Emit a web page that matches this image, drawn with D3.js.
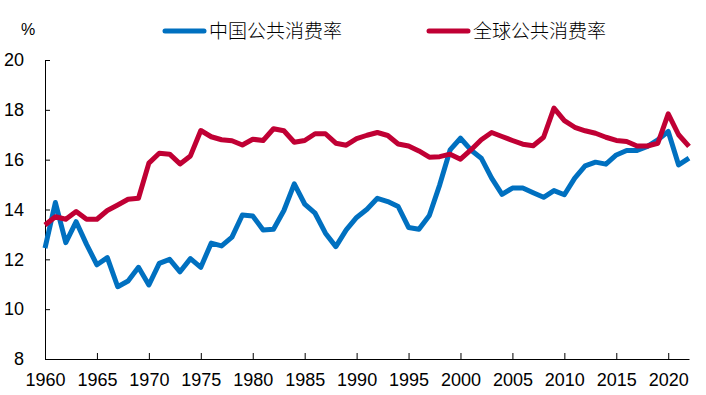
<!DOCTYPE html>
<html>
<head>
<meta charset="utf-8">
<script src="https://cdn.jsdelivr.net/npm/d3@7"></script>
<style>
  body { margin: 0; background: #fff; }
  svg { display: block; }
</style>
</head>
<body>
<div id="chart"></div>
<script>
// years 1960..2022
const years = d3.range(1960, 2023);

// 中国公共消费率 (%)
const chinaRate = [
  12.45, 14.28, 12.67, 13.51, 12.6, 11.78, 12.07, 10.9, 11.13, 11.68,
  10.97, 11.84, 12.0, 11.5, 12.03, 11.68, 12.65, 12.54, 12.89, 13.78,
  13.74, 13.18, 13.21, 13.96, 15.03, 14.22, 13.85, 13.05, 12.51, 13.18,
  13.68, 14.01, 14.45, 14.32, 14.12, 13.28, 13.21, 13.76, 14.99, 16.39,
  16.86, 16.39, 16.06, 15.26, 14.61, 14.86, 14.86, 14.67, 14.49, 14.76,
  14.59, 15.26, 15.75, 15.9, 15.82, 16.19, 16.37, 16.37, 16.53, 16.8,
  17.13, 15.79, 16.06
];

// 全球公共消费率 (%)
const worldRate = [
  13.38, 13.71, 13.61, 13.92, 13.61, 13.61, 13.96, 14.18, 14.41, 14.45,
  15.86, 16.26, 16.22, 15.83, 16.15, 17.17, 16.92, 16.8, 16.76, 16.59,
  16.82, 16.77, 17.24, 17.16, 16.7, 16.77, 17.04, 17.04, 16.66, 16.58,
  16.84, 16.98, 17.09, 16.97, 16.63, 16.55, 16.35, 16.1, 16.12, 16.22,
  16.02, 16.39, 16.8, 17.09, 16.93, 16.77, 16.62, 16.56, 16.9, 18.07,
  17.57, 17.3, 17.16, 17.06, 16.9, 16.77, 16.73, 16.55, 16.55, 16.66,
  17.84, 17.0, 16.53
];

const yTicks = [8, 10, 12, 14, 16, 18, 20];
const xTicks = [1960, 1965, 1970, 1975, 1980, 1985, 1990, 1995, 2000, 2005, 2010, 2015, 2020];

const seriesNames = ['中国公共消费率', '全球公共消费率'];
const seriesColors = ['#0070c0', '#c00034'];

const width = 706, height = 395;
const margin = { top: 60, right: 17, bottom: 36, left: 45 };

const svg = d3.select('#chart').append('svg')
  .attr('width', width)
  .attr('height', height);

const x = d3.scaleLinear().domain([1960, 2022]).range([margin.left, width - margin.right]);
const y = d3.scaleLinear().domain([8, 20]).range([height - margin.bottom, margin.top]);

// axes (ticks point inward)
const xAxis = svg.append('g')
  .attr('transform', 'translate(0,' + (height - margin.bottom) + ')')
  .call(d3.axisBottom(x).tickValues(xTicks).tickFormat(d3.format('d')).tickSize(-6).tickSizeOuter(0).tickPadding(14));

const yAxis = svg.append('g')
  .attr('transform', 'translate(' + margin.left + ',0)')
  .call(d3.axisLeft(y).tickValues(yTicks).tickSize(-5).tickSizeOuter(0).tickPadding(21));

[xAxis, yAxis].forEach(function (g) {
  g.selectAll('path, line').attr('stroke', '#000').attr('stroke-width', 1);
  g.selectAll('text')
    .attr('fill', '#000')
    .style('font-family', '"Liberation Sans", Arial, sans-serif')
    .style('font-size', '18px');
});

// unit label
svg.append('text')
  .attr('x', 28)
  .attr('y', 35)
  .attr('text-anchor', 'middle')
  .style('font-family', '"Liberation Sans", Arial, sans-serif')
  .style('font-size', '16px')
  .text('%');

// lines
const line = d3.line()
  .x(function (d, i) { return x(years[i]); })
  .y(function (d) { return y(d); });

[chinaRate, worldRate].forEach(function (vals, i) {
  svg.append('path')
    .datum(vals)
    .attr('d', line)
    .attr('fill', 'none')
    .attr('stroke', seriesColors[i])
    .attr('stroke-width', 5)
    .attr('stroke-linejoin', 'round');
});

// legend
const legendX = [165, 429];
seriesNames.forEach(function (name, i) {
  const g = svg.append('g').attr('transform', 'translate(' + legendX[i] + ',31)');
  g.append('line')
    .attr('x1', 0).attr('x2', 39)
    .attr('stroke', seriesColors[i])
    .attr('stroke-width', 5)
    .attr('stroke-linecap', 'round');
  g.append('text')
    .attr('x', 44)
    .attr('dy', '0.36em')
    .style('font-family', '"Noto Sans CJK SC", sans-serif')
    .style('font-size', '19px')
    .style('font-weight', 300)
    .attr('fill', '#000')
    .text(name);
});
</script>
</body>
</html>
